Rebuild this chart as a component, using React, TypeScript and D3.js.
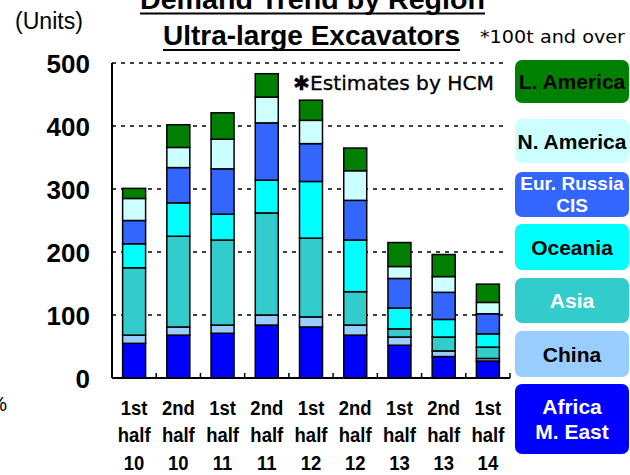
import React from "react";
import * as d3 from "d3";

const periods = [
  ["1st", "half", "10"],
  ["2nd", "half", "10"],
  ["1st", "half", "11"],
  ["2nd", "half", "11"],
  ["1st", "half", "12"],
  ["2nd", "half", "12"],
  ["1st", "half", "13"],
  ["2nd", "half", "13"],
  ["1st", "half", "14"],
];

const regions = ["Africa M. East", "China", "Asia", "Oceania", "Eur. Russia CIS", "N. America", "L. America"];

const africa = [55, 68, 71, 84, 81, 68, 52, 34, 27];
const china = [13, 13, 13, 16, 16, 16, 13, 9, 4];
const asia = [107, 144, 135, 162, 125, 53, 13, 22, 18];
const oceania = [38, 53, 41, 52, 90, 82, 33, 28, 21];
const eurRussia = [37, 56, 72, 91, 60, 63, 47, 43, 32];
const nAmerica = [35, 32, 47, 41, 37, 47, 19, 25, 18];
const lAmerica = [16, 36, 42, 37, 32, 36, 38, 35, 29];

const yTicks = [0, 100, 200, 300, 400, 500];

const colors = ["#0000ff", "#99ccff", "#33cccc", "#00ffff", "#3366ff", "#ccffff", "#008000"];
const legendTextColor = ["#fff", "#000", "#fff", "#000", "#fff", "#000", "#000"];
const legendLines = [["Africa", "M. East"], ["China"], ["Asia"], ["Oceania"], ["Eur. Russia", "CIS"], ["N. America"], ["L. America"]];
const legendBoxes = [
  { idx: 6, y: 60, h: 43 },
  { idx: 5, y: 119, h: 44 },
  { idx: 4, y: 172, h: 45 },
  { idx: 3, y: 224, h: 46 },
  { idx: 2, y: 278, h: 45 },
  { idx: 1, y: 331, h: 46 },
  { idx: 0, y: 384, h: 70 },
];

const series = [africa, china, asia, oceania, eurRussia, nAmerica, lAmerica];

export default function App() {
  const left = 112, right = 510, top = 63, bottom = 378;
  const x = d3.scaleBand<number>().domain(d3.range(periods.length)).range([left, right]).paddingInner(0.48).paddingOuter(0.24);
  const band = d3.scaleBand<number>().domain(d3.range(periods.length)).range([left, right]);
  const y = d3.scaleLinear().domain([0, 500]).range([bottom, top]);

  const table = periods.map((_, i) => {
    const o: any = { i };
    regions.forEach((r, k) => (o[r] = series[k][i]));
    return o;
  });
  const stack = d3.stack<any>().keys(regions)(table);

  const font = "'Liberation Sans', Arial, sans-serif";

  return (
    <svg width={630} height={475} style={{ position: "absolute", left: 0, top: 0, background: "#fff" }} fontFamily={font}>
      {/* titles */}
      <text x={140} y={9} fontSize={28} fontWeight="bold" textLength={345} lengthAdjust="spacingAndGlyphs">Demand Trend by Region</text>
      <line x1={140} x2={485} y1={13.5} y2={13.5} stroke="#000" strokeWidth={2} />
      <text x={163} y={45} fontSize={28} fontWeight="bold" textLength={297} lengthAdjust="spacingAndGlyphs">Ultra-large Excavators</text>
      <line x1={163} x2={460} y1={50} y2={50} stroke="#000" strokeWidth={2} />
      <text x={480} y={43} fontSize={17} fontFamily="'DejaVu Sans', sans-serif" textLength={145} lengthAdjust="spacingAndGlyphs">*100t and over</text>
      <text x={15} y={29} fontSize={23} textLength={68} lengthAdjust="spacingAndGlyphs">(Units)</text>
      <text x={7} y={411} fontSize={20} textAnchor="end">%</text>

      {/* gridlines */}
      {yTicks.filter(t => t > 0).map(t => (
        <line key={t} x1={left} x2={503} y1={y(t)} y2={y(t)} stroke="#000" strokeWidth={1.5} strokeDasharray="4 5" />
      ))}

      {/* y labels */}
      {yTicks.map(t => (
        <text key={t} x={90} y={y(t) + 9.5} fontSize={26} fontWeight="bold" textAnchor="end">{t}</text>
      ))}

      {/* bars */}
      {stack.map((s, k) => (
        <g key={regions[k]}>
          {s.map((d, i) => (
            <rect key={i} x={x(i)} width={x.bandwidth()} y={y(d[1])} height={y(d[0]) - y(d[1])}
              fill={colors[k]} stroke="#000" strokeWidth={1.5} />
          ))}
        </g>
      ))}

      <text x={293} y={90} fontSize={20} fontFamily="'DejaVu Sans', sans-serif" textLength={201} lengthAdjust="spacingAndGlyphs" stroke="#000" strokeWidth={0.3}>✱Estimates by HCM</text>

      {/* axes */}
      <line x1={left} x2={left} y1={top} y2={bottom} stroke="#000" strokeWidth={2} />
      <line x1={left} x2={right} y1={bottom} y2={bottom} stroke="#000" strokeWidth={2} />
      {d3.range(1, periods.length + 1).map(k => {
        const xx = left + band.step() * k;
        return <line key={k} x1={xx} x2={xx} y1={bottom} y2={bottom - 5} stroke="#000" strokeWidth={1.5} />;
      })}

      {/* x labels */}
      {periods.map((p, i) => (
        <g key={i} transform={`translate(${(band(i) as number) + band.bandwidth() / 2},0) scale(0.88,1)`}>
          {p.map((l, j) => (
            <text key={j} x={0} y={415 + j * 27.5} fontSize={21} fontWeight="bold" textAnchor="middle">{l}</text>
          ))}
        </g>
      ))}

      {/* legend */}
      {legendBoxes.map(b => {
        const lines = legendLines[b.idx];
        const fs = b.idx === 4 ? 19 : 21;
        const lh = b.idx === 4 ? 22 : 25.5;
        const cy = b.y + b.h / 2;
        const startY = cy + fs * 0.36 - ((lines.length - 1) * lh) / 2;
        return (
          <g key={b.idx}>
            <rect x={515} y={b.y} width={114} height={b.h} rx={7} fill={colors[b.idx]} />
            {lines.map((l, j) => (
              <text key={j} x={572} y={startY + j * lh} fontSize={fs} fontWeight="bold" textAnchor="middle" fill={legendTextColor[b.idx]}>{l}</text>
            ))}
          </g>
        );
      })}
    </svg>
  );
}
